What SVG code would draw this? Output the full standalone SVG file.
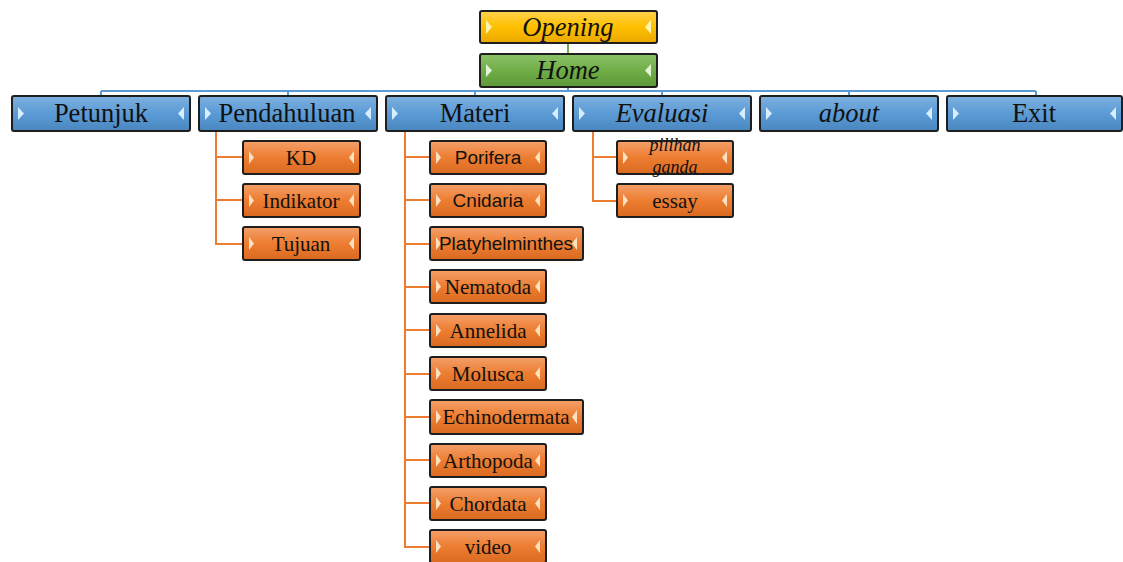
<svg xmlns="http://www.w3.org/2000/svg" width="1123" height="562" viewBox="0 0 1123 562">
<defs>
<linearGradient id="gBlue" x1="0" y1="0" x2="0" y2="1"><stop offset="0" stop-color="#7fb0e0"/><stop offset="0.5" stop-color="#5b9bd5"/><stop offset="1" stop-color="#4a86c0"/></linearGradient>
<linearGradient id="gOrange" x1="0" y1="0" x2="0" y2="1"><stop offset="0" stop-color="#f4a06a"/><stop offset="0.5" stop-color="#ed7d31"/><stop offset="1" stop-color="#d96a20"/></linearGradient>
<linearGradient id="gGreen" x1="0" y1="0" x2="0" y2="1"><stop offset="0" stop-color="#8cc26a"/><stop offset="0.5" stop-color="#70ad47"/><stop offset="1" stop-color="#5e9838"/></linearGradient>
<linearGradient id="gGold" x1="0" y1="0" x2="0" y2="1"><stop offset="0" stop-color="#ffd24d"/><stop offset="0.5" stop-color="#ffc000"/><stop offset="1" stop-color="#eaa800"/></linearGradient>
</defs>
<style>
.box{stroke:#1e1e1e;stroke-width:2}
.blue{fill:url(#gBlue)}
.orange{fill:url(#gOrange)}
.green{fill:url(#gGreen)}
.gold{fill:url(#gGold)}
.cb{fill:#d6eeff}
.co{fill:#fde0c0}
.cg{fill:#e2f5d4}
.cy{fill:#fff4b0}
.t1{font-family:"Liberation Serif",serif;font-size:26.5px;fill:#111;text-anchor:middle}
.t2{font-family:"Liberation Serif",serif;font-size:21px;fill:#111;text-anchor:middle}
.t3{font-family:"Liberation Serif",serif;font-size:18px;fill:#111;text-anchor:middle}
.ts{font-family:"Liberation Sans",sans-serif;font-size:19px;fill:#111;text-anchor:middle}
.it{font-style:italic}
.cn{fill:none;stroke-width:2}
.lb{stroke:#5b9bd5}
.lo{stroke:#ed7d31}
.lg{stroke:#70ad47}
</style>
<g id="connectors">
<line class="cn lg" x1="568" y1="43" x2="568" y2="54"/>
<polyline class="cn lb" points="568,87 568,91"/>
<line class="cn lb" x1="101" y1="91" x2="1036" y2="91"/>
<line class="cn lb" x1="101" y1="91" x2="101" y2="96"/>
<line class="cn lb" x1="288" y1="91" x2="288" y2="96"/>
<line class="cn lb" x1="475" y1="91" x2="475" y2="96"/>
<line class="cn lb" x1="662" y1="91" x2="662" y2="96"/>
<line class="cn lb" x1="849" y1="91" x2="849" y2="96"/>
<line class="cn lb" x1="1036" y1="91" x2="1036" y2="96"/>
<polyline class="cn lo" points="216,131 216,244 243,244"/>
<line class="cn lo" x1="216" y1="157" x2="243" y2="157"/>
<line class="cn lo" x1="216" y1="200" x2="243" y2="200"/>
<polyline class="cn lo" points="405,131 405,547 430,547"/>
<line class="cn lo" x1="405" y1="157" x2="430" y2="157"/>
<line class="cn lo" x1="405" y1="200" x2="430" y2="200"/>
<line class="cn lo" x1="405" y1="244" x2="430" y2="244"/>
<line class="cn lo" x1="405" y1="287" x2="430" y2="287"/>
<line class="cn lo" x1="405" y1="330" x2="430" y2="330"/>
<line class="cn lo" x1="405" y1="374" x2="430" y2="374"/>
<line class="cn lo" x1="405" y1="417" x2="430" y2="417"/>
<line class="cn lo" x1="405" y1="460" x2="430" y2="460"/>
<line class="cn lo" x1="405" y1="503" x2="430" y2="503"/>
<polyline class="cn lo" points="593,131 593,201 617,201"/>
<line class="cn lo" x1="593" y1="157" x2="617" y2="157"/>
</g>
<g id="opening"><rect class="box gold" x="480" y="11" width="177" height="32" rx="2"/><polygon class="cy" points="486,20 492,27 486,34"/><polygon class="cy" points="651,20 645,27 651,34"/><text class="t1 it" x="568" y="36">Opening</text></g>
<g id="home"><rect class="box green" x="480" y="54" width="177" height="33" rx="2"/><polygon class="cg" points="486,64 492,70.5 486,77"/><polygon class="cg" points="651,64 645,70.5 651,77"/><text class="t1 it" x="568" y="79">Home</text></g>
<g id="petunjuk"><rect class="box blue" x="12" y="96" width="178" height="35" rx="2"/><polygon class="cb" points="18,107 24,113.5 18,120"/><polygon class="cb" points="184,107 178,113.5 184,120"/><text class="t1" x="101" y="122">Petunjuk</text></g>
<g id="pendahuluan"><rect class="box blue" x="199" y="96" width="178" height="35" rx="2"/><polygon class="cb" points="205,107 211,113.5 205,120"/><polygon class="cb" points="371,107 365,113.5 371,120"/><text class="t1" x="287" y="122">Pendahuluan</text></g>
<g id="materi"><rect class="box blue" x="386" y="96" width="178" height="35" rx="2"/><polygon class="cb" points="392,107 398,113.5 392,120"/><polygon class="cb" points="558,107 552,113.5 558,120"/><text class="t1" x="475" y="122">Materi</text></g>
<g id="evaluasi"><rect class="box blue" x="573" y="96" width="178" height="35" rx="2"/><polygon class="cb" points="579,107 585,113.5 579,120"/><polygon class="cb" points="745,107 739,113.5 745,120"/><text class="t1 it" x="662" y="122">Evaluasi</text></g>
<g id="about"><rect class="box blue" x="760" y="96" width="178" height="35" rx="2"/><polygon class="cb" points="766,107 772,113.5 766,120"/><polygon class="cb" points="932,107 926,113.5 932,120"/><text class="t1 it" x="849" y="122">about</text></g>
<g id="exit"><rect class="box blue" x="947" y="96" width="175" height="35" rx="2"/><polygon class="cb" points="953,107 959,113.5 953,120"/><polygon class="cb" points="1116,107 1110,113.5 1116,120"/><text class="t1" x="1034" y="122">Exit</text></g>
<g id="kd"><rect class="box orange" x="243" y="141" width="117" height="33" rx="2"/><polygon class="co" points="249,151 254,157.5 249,164"/><polygon class="co" points="354,151 349,157.5 354,164"/><text class="t2" x="301" y="165">KD</text></g>
<g id="indikator"><rect class="box orange" x="243" y="184" width="117" height="33" rx="2"/><polygon class="co" points="249,194 254,200.5 249,207"/><polygon class="co" points="354,194 349,200.5 354,207"/><text class="t2" x="301" y="208">Indikator</text></g>
<g id="tujuan"><rect class="box orange" x="243" y="227" width="117" height="33" rx="2"/><polygon class="co" points="249,237 254,243.5 249,250"/><polygon class="co" points="354,237 349,243.5 354,250"/><text class="t2" x="301" y="251">Tujuan</text></g>
<g id="porifera"><rect class="box orange" x="430" y="141" width="116" height="33" rx="2"/><polygon class="co" points="436,151 441,157.5 436,164"/><polygon class="co" points="540,151 535,157.5 540,164"/><text class="ts" x="488" y="164">Porifera</text></g>
<g id="cnidaria"><rect class="box orange" x="430" y="184" width="116" height="33" rx="2"/><polygon class="co" points="436,194 441,200.5 436,207"/><polygon class="co" points="540,194 535,200.5 540,207"/><text class="ts" x="488" y="207">Cnidaria</text></g>
<g id="platyhelminthes"><rect class="box orange" x="430" y="227" width="153" height="33" rx="2"/><polygon class="co" points="436,237 441,243.5 436,250"/><polygon class="co" points="577,237 572,243.5 577,250"/><text class="ts" x="506" y="250">Platyhelminthes</text></g>
<g id="nematoda"><rect class="box orange" x="430" y="270" width="116" height="33" rx="2"/><polygon class="co" points="436,280 441,286.5 436,293"/><polygon class="co" points="540,280 535,286.5 540,293"/><text class="t2" x="488" y="294">Nematoda</text></g>
<g id="annelida"><rect class="box orange" x="430" y="314" width="116" height="33" rx="2"/><polygon class="co" points="436,324 441,330.5 436,337"/><polygon class="co" points="540,324 535,330.5 540,337"/><text class="t2" x="488" y="338">Annelida</text></g>
<g id="molusca"><rect class="box orange" x="430" y="357" width="116" height="33" rx="2"/><polygon class="co" points="436,367 441,373.5 436,380"/><polygon class="co" points="540,367 535,373.5 540,380"/><text class="t2" x="488" y="381">Molusca</text></g>
<g id="echinodermata"><rect class="box orange" x="430" y="400" width="153" height="34" rx="2"/><polygon class="co" points="436,410 441,417 436,424"/><polygon class="co" points="577,410 572,417 577,424"/><text class="t2" x="506" y="424">Echinodermata</text></g>
<g id="arthopoda"><rect class="box orange" x="430" y="444" width="116" height="33" rx="2"/><polygon class="co" points="436,454 441,460.5 436,467"/><polygon class="co" points="540,454 535,460.5 540,467"/><text class="t2" x="488" y="468">Arthopoda</text></g>
<g id="chordata"><rect class="box orange" x="430" y="487" width="116" height="33" rx="2"/><polygon class="co" points="436,497 441,503.5 436,510"/><polygon class="co" points="540,497 535,503.5 540,510"/><text class="t2" x="488" y="511">Chordata</text></g>
<g id="video"><rect class="box orange" x="430" y="530" width="116" height="33" rx="2"/><polygon class="co" points="436,540 441,546.5 436,553"/><polygon class="co" points="540,540 535,546.5 540,553"/><text class="t2" x="488" y="554">video</text></g>
<g id="pilihan-ganda"><rect class="box orange" x="617" y="141" width="116" height="33" rx="2"/><polygon class="co" points="623,151 628,157.5 623,164"/><polygon class="co" points="727,151 722,157.5 727,164"/><text class="t3 it" x="675" y="151">pilihan</text><text class="t3 it" x="675" y="173">ganda</text></g>
<g id="essay"><rect class="box orange" x="617" y="184" width="116" height="33" rx="2"/><polygon class="co" points="623,194 628,200.5 623,207"/><polygon class="co" points="727,194 722,200.5 727,207"/><text class="t2" x="675" y="208">essay</text></g>
</svg>
